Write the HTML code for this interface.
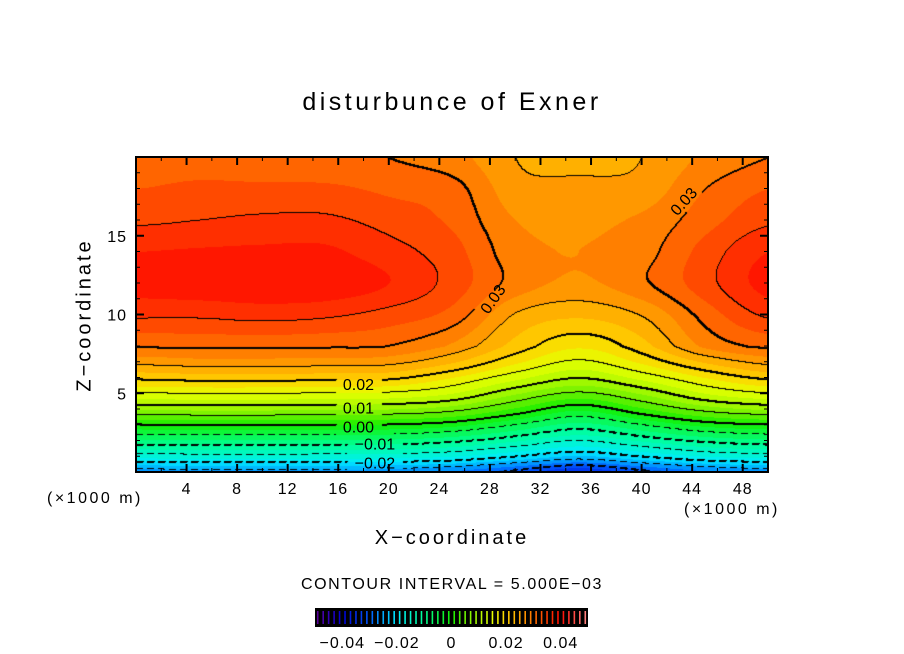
<!DOCTYPE html>
<html><head><meta charset="utf-8">
<style>
body{margin:0;background:#fff;width:904px;height:654px;overflow:hidden;position:relative;font-family:"Liberation Sans",sans-serif;}
.t{position:absolute;color:#000;white-space:nowrap;}
</style></head>
<body>
<div class="t" style="left:0;width:904px;text-align:center;top:88px;font-size:25px;letter-spacing:3.5px;">disturbunce of Exner</div>
<canvas id="plot" width="632" height="315" style="position:absolute;left:136px;top:157px;"></canvas>
<svg id="axes" width="904" height="654" style="position:absolute;left:0;top:0;"></svg>
<div class="t" style="left:85px;top:315px;font-size:20px;transform:translate(-50%,-50%) rotate(-90deg);letter-spacing:3px;">Z−coordinate</div>
<div class="t" style="left:0;width:904px;text-align:center;top:527px;font-size:20px;letter-spacing:3px;">X−coordinate</div>
<div class="t" style="left:47px;top:490px;font-size:16px;letter-spacing:2.5px;">(×1000 m)</div>
<div class="t" style="left:684px;top:501px;font-size:16px;letter-spacing:2.5px;">(×1000 m)</div>
<div class="t" style="left:0;width:904px;text-align:center;top:576px;font-size:16px;letter-spacing:1.6px;">CONTOUR INTERVAL = 5.000E−03</div>
<script>
// ---- data ----
const xs = [0,5,10,15,20,25,30,35,40,45,50];
const zs = [0,1,2,3,4,5,6,7,8,10,12,14,16,18,20];
const f_z0  = [-.0265,-.026,-.026,-.0262,-.0265,-.028,-.031,-.035,-.031,-.028,-.0265];
const f_z1  = [-.0165,-.0162,-.0162,-.0163,-.0165,-.0175,-.0202,-.023,-.0202,-.0175,-.0165];
const f_z2  = [-.0082,-.008,-.008,-.0081,-.0082,-.0095,-.0122,-.015,-.0122,-.0095,-.0082];
const f_z3  = [-.0004,0,0,-.0002,-.0004,-.0017,-.0051,-.0085,-.0051,-.0017,-.0004];
const f_z4  = [.0078,.008,.008,.0078,.0075,.006,.002,-.002,.002,.006,.0078];
const f_z5  = [.0148,.015,.015,.0148,.0145,.0125,.0078,.0045,.0078,.0125,.0148];
const f_z6  = [.0205,.021,.021,.0208,.0205,.0175,.0133,.010,.0133,.0175,.0205];
const f_z7  = [.0259,.0265,.0265,.0263,.0259,.0228,.018,.0145,.018,.0228,.0259];
const f_z8  = [.0302,.0305,.0305,.0303,.0299,.027,.0215,.018,.0215,.028,.0305];
const f_z10 = [.0355,.0355,.036,.0355,.034,.0315,.0248,.023,.0252,.031,.0355];
const f_z12 = [.0385,.039,.0392,.0392,.0375,.034,.029,.027,.0295,.034,.0385];
const f_z14 = [.0375,.0378,.038,.038,.036,.0335,.0285,.0275,.029,.0335,.0375];
const f_z16 = [.0345,.035,.0355,.0355,.034,.032,.0275,.027,.028,.0315,.0345];
const f_z18 = [.0325,.033,.033,.033,.032,.031,.026,.0262,.026,.030,.0325];
const f_z20 = [.0315,.0315,.031,.0305,.030,.0285,.025,.0232,.025,.028,.030];
const field = [f_z0,f_z1,f_z2,f_z3,f_z4,f_z5,f_z6,f_z7,f_z8,f_z10,f_z12,f_z14,f_z16,f_z18,f_z20];
const xTicks = [4,8,12,16,20,24,28,32,36,40,44,48];
const zTicks = [5,10,15];
const cbTicks = [-0.04,-0.02,0,0.02,0.04];
const cbTickLabels = ["−0.04","−0.02","0","0.02","0.04"];
const contourLabels = ["0.02","0.01","0.00","−0.01","−0.02","0.03","0.03"];
const contourLabelX = [17.6,17.6,17.6,18.9,18.9,28.2,43.3];
const contourLabelZ = [5.6,4.1,2.9,1.8,0.6,11.0,17.2];
const contourLabelRot = [0,0,0,0,0,-55,-48];

// ---- scales ----
const PX0=136, PY0=157, PW=632, PH=315;
const X0=0,X1=50,Z0=0,Z1=20;
const sx = x => PX0 + (x-X0)/(X1-X0)*PW;
const sz = z => PY0 + PH - (z-Z0)/(Z1-Z0)*PH;

function fidx(arr,v){let i=0;while(i<arr.length-2 && v>arr[i+1]) i++;return i+(v-arr[i])/(arr[i+1]-arr[i]);}
function cr(p0,p1,p2,p3,t){return 0.5*((2*p1)+(-p0+p2)*t+(2*p0-5*p1+4*p2-p3)*t*t+(-p0+3*p1-3*p2+p3)*t*t*t);}
function g(j,i){j=Math.max(0,Math.min(field.length-1,j));i=Math.max(0,Math.min(xs.length-1,i));return field[j][i];}
function val(x,z){const fi=fidx(xs,x),fj=fidx(zs,z);const i=Math.floor(Math.min(fi,xs.length-1.0001)),j=Math.floor(Math.min(fj,zs.length-1.0001));const tx=fi-i,tz=fj-j;
 const r=[];for(let m=-1;m<=2;m++){r.push(cr(g(j+m,i-1),g(j+m,i),g(j+m,i+1),g(j+m,i+2),tx));}
 return cr(r[0],r[1],r[2],r[3],tz);}

const cmV=[-.05,-.04,-.03,-.025,-.02,-.01,0,.005,.01,.015,.02,.025,.03,.035,.04,.05];
const cmC=[[100,0,150],[0,0,210],[0,90,255],[0,170,255],[0,235,255],[0,255,150],[20,240,0],[110,240,0],[175,250,0],[230,255,0],[255,210,0],[255,165,0],[255,115,0],[255,60,0],[255,10,0],[255,140,140]];
function cmap(v){if(v<=cmV[0])return cmC[0];for(let k=0;k<cmV.length-1;k++){if(v<=cmV[k+1]){const t=(v-cmV[k])/(cmV[k+1]-cmV[k]);return cmC[k].map((c,m)=>Math.round(c+(cmC[k+1][m]-c)*t));}}return cmC[cmC.length-1];}

// ---- render field ----
const cv=document.getElementById('plot');const ctx=cv.getContext('2d');
const img=ctx.createImageData(PW,PH);
const V=new Float64Array((PW+1)*(PH+1));
for(let j=0;j<=PH;j++)for(let i=0;i<=PW;i++){V[j*(PW+1)+i]=val(i/PW*(X1-X0)+X0,(PH-j)/PH*(Z1-Z0)+Z0);}
const step=0.0025;
for(let j=0;j<PH;j++)for(let i=0;i<PW;i++){const v=V[j*(PW+1)+i];const q=Math.floor(v/step)*step+step/2;const c=cmap(q);const p=(j*PW+i)*4;img.data[p]=c[0];img.data[p+1]=c[1];img.data[p+2]=c[2];img.data[p+3]=255;}
const boxes=contourLabels.map((s,k)=>{const cx=sx(contourLabelX[k])-PX0,cy=sz(contourLabelZ[k])-PY0;const w=s.length*10+6;return [cx,cy,w];});
function inBox(i,j){for(const [cx,cy,w] of boxes){if(Math.abs(i-cx)<w/2&&Math.abs(j-cy)<10)return true;}return false;}
const levels=[];for(let L=-0.045;L<0.0451;L+=0.005)levels.push(Math.round(L*1000)/1000);
function setBlack(i,j){if(i<0||j<0||i>=PW||j>=PH)return;const p=(j*PW+i)*4;img.data[p]=0;img.data[p+1]=0;img.data[p+2]=0;}
for(let j=0;j<PH;j++)for(let i=0;i<PW;i++){
 const v=V[j*(PW+1)+i],vr=V[j*(PW+1)+i+1],vd=V[(j+1)*(PW+1)+i];
 for(const L of levels){
  if(((v-L)*(vr-L)<0)||((v-L)*(vd-L)<0)){
   if(L<-1e-9 && (i%11)>=7) continue;
   if(inBox(i,j)) continue;
   setBlack(i,j);
   const heavy=Math.abs(Math.round(L*100)-L*100)<1e-6;
   if(heavy){setBlack(i,j+1);setBlack(i+1,j);}
  }
 }
}
ctx.putImageData(img,0,0);

// ---- axes (SVG) ----
const NS='http://www.w3.org/2000/svg';const svg=document.getElementById('axes');
function mk(tag,attrs){const e=document.createElementNS(NS,tag);for(const k in attrs)e.setAttribute(k,attrs[k]);svg.appendChild(e);return e;}
const frame=mk('rect',{x:PX0,y:PY0,width:PW,height:PH,fill:'none',stroke:'#000','stroke-width':2});


for(let x=2;x<50;x+=2){const major=x%4===0;const len=major?8:4;
 const b=mk('line',{x1:sx(x),x2:sx(x),y1:PY0+PH,y2:PY0+PH-len,stroke:'#000','stroke-width':major?2:1});
 
 
 const t=mk('line',{x1:sx(x),x2:sx(x),y1:PY0,y2:PY0+len,stroke:'#000','stroke-width':major?2:1});
 
 }
for(let z=1;z<20;z++){const major=z%5===0;const len=major?8:4;
 const l=mk('line',{x1:PX0,x2:PX0+len,y1:sz(z),y2:sz(z),stroke:'#000','stroke-width':major?2:1});
 
 
 const r=mk('line',{x1:PX0+PW,x2:PX0+PW-len,y1:sz(z),y2:sz(z),stroke:'#000','stroke-width':major?2:1});
 
 }
xTicks.forEach(x=>{const t=mk('text',{x:sx(x),y:494,'text-anchor':'middle','font-size':16,'letter-spacing':1,'font-family':'Liberation Sans, sans-serif'});t.textContent=String(x);
 
 });
zTicks.forEach(z=>{const t=mk('text',{x:127,y:sz(z)+6,'text-anchor':'end','font-size':16,'letter-spacing':1,'font-family':'Liberation Sans, sans-serif'});t.textContent=String(z);
 
 });
contourLabels.forEach((s,k)=>{const cx=sx(contourLabelX[k]),cy=sz(contourLabelZ[k]);
 const t=mk('text',{x:cx,y:cy+6,'text-anchor':'middle','font-size':16,'font-family':'Liberation Sans, sans-serif',transform:`rotate(${contourLabelRot[k]} ${cx} ${cy})`});t.textContent=s;
 
 });
// colorbar
const CB0=315,CB1=588,CBY=608,CBH=19,CV0=-0.05,CV1=0.05;
const cbx=v=>CB0+(v-CV0)/(CV1-CV0)*(CB1-CB0);
const cbBg=mk('rect',{x:CB0,y:CBY,width:CB1-CB0,height:CBH,fill:'#000'});


for(let v=CV0+0.001;v<CV1;v+=0.002){const l=mk('line',{x1:cbx(v),x2:cbx(v),y1:CBY+3,y2:CBY+CBH-3,stroke:`rgb(${cmap(v).join(',')})`,'stroke-width':1.6});
 
 }
cbTicks.forEach((v,k)=>{const t=mk('text',{x:cbx(v),y:648,'text-anchor':'middle','font-size':16,'letter-spacing':1,'font-family':'Liberation Sans, sans-serif'});t.textContent=cbTickLabels[k];
 
 });
</script>
</body></html>
